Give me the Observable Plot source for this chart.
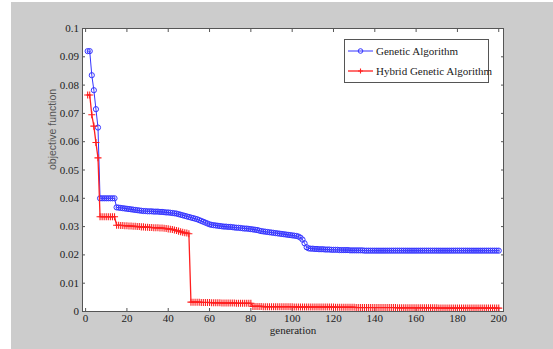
<!DOCTYPE html>
<html><head><meta charset="utf-8">
<script src="https://cdn.jsdelivr.net/npm/d3@7"></script>
<script src="https://cdn.jsdelivr.net/npm/@observablehq/plot@0.6"></script>
<style>
body{margin:0;background:#fff;}
#wrap{position:relative;width:553px;height:349px;overflow:hidden;}
#bg{position:absolute;left:11px;top:2px;width:542px;height:347px;background:#cccccc;}
#chart{position:absolute;left:0;top:0;}
#legend{position:absolute;left:344px;top:39px;width:143px;height:42px;background:#fff;border:1px solid #555;font-family:"Liberation Serif",serif;font-size:11px;color:#222;}
#legend .row{position:absolute;left:0;height:14px;width:143px;}
#legend svg{position:absolute;left:0;top:0;}
#legend span{position:absolute;left:31px;top:0;line-height:14px;white-space:nowrap;}
</style></head><body>
<div id="wrap"><div id="bg"></div><div id="chart"></div><div id="legend"></div></div>
<script>
const generations = d3.range(1, 201);
const gaValues = [
0.0920,0.0920,0.0835,0.0782,0.0715,0.0650,0.0400,0.0400,0.0400,0.0400,
0.0400,0.0400,0.0400,0.0400,0.0368,0.0367,0.0366,0.0365,0.0364,0.0363,
0.0362,0.0361,0.0360,0.0359,0.0358,0.0357,0.0356,0.0355,0.0355,0.0354,
0.0354,0.0354,0.0353,0.0353,0.0353,0.0352,0.0352,0.0351,0.0350,0.0350,
0.0349,0.0348,0.0347,0.0346,0.0344,0.0342,0.0340,0.0338,0.0336,0.0334,
0.0332,0.0330,0.0328,0.0326,0.0323,0.0320,0.0317,0.0314,0.0311,0.0308,
0.0306,0.0305,0.0304,0.0303,0.0302,0.0301,0.0300,0.0300,0.0299,0.0299,
0.0298,0.0297,0.0296,0.0296,0.0295,0.0294,0.0293,0.0293,0.0292,0.0291,
0.0290,0.0289,0.0288,0.0286,0.0284,0.0283,0.0282,0.0281,0.0280,0.0279,
0.0278,0.0277,0.0276,0.0275,0.0274,0.0273,0.0272,0.0271,0.0270,0.0269,
0.0268,0.0267,0.0265,0.0261,0.0254,0.0241,0.0227,0.0223,0.0222,0.0222,
0.0221,0.0221,0.0220,0.0220,0.0220,0.0219,0.0219,0.0219,0.0218,0.0218,
0.0218,0.0218,0.0217,0.0217,0.0217,0.0217,0.0217,0.0216,0.0216,0.0216,
0.0216,0.0216,0.0216,0.0216,0.0215,0.0215,0.0215,0.0215,0.0215,0.0215,
0.0215,0.0215,0.0215,0.0215,0.0215,0.0215,0.0215,0.0215,0.0215,0.0215,
0.0215,0.0215,0.0215,0.0215,0.0215,0.0215,0.0215,0.0215,0.0215,0.0215,
0.0215,0.0215,0.0215,0.0215,0.0215,0.0215,0.0215,0.0215,0.0215,0.0215,
0.0215,0.0215,0.0215,0.0215,0.0215,0.0215,0.0215,0.0215,0.0215,0.0215,
0.0215,0.0215,0.0215,0.0215,0.0215,0.0215,0.0215,0.0215,0.0215,0.0215,
0.0215,0.0215,0.0215,0.0215,0.0215,0.0215,0.0215,0.0215,0.0215,0.0215
];
const hgaValues = [
0.0765,0.0765,0.0695,0.0655,0.0597,0.0543,0.0335,0.0335,0.0335,0.0335,
0.0335,0.0335,0.0335,0.0335,0.0305,0.0305,0.0304,0.0304,0.0303,0.0303,
0.0302,0.0302,0.0301,0.0301,0.0300,0.0300,0.0299,0.0299,0.0298,0.0298,
0.0297,0.0297,0.0296,0.0296,0.0296,0.0295,0.0295,0.0294,0.0293,0.0292,
0.0291,0.0290,0.0288,0.0286,0.0284,0.0282,0.0280,0.0278,0.0277,0.0275,
0.0033,0.0033,0.0033,0.0033,0.0033,0.0032,0.0032,0.0032,0.0032,0.0032,
0.0031,0.0031,0.0031,0.0031,0.0031,0.0030,0.0030,0.0030,0.0030,0.0030,
0.0030,0.0030,0.0029,0.0029,0.0029,0.0029,0.0029,0.0029,0.0029,0.0029,
0.0018,0.0018,0.0018,0.0018,0.0018,0.0017,0.0017,0.0017,0.0017,0.0017,
0.0017,0.0017,0.0017,0.0017,0.0017,0.0017,0.0017,0.0017,0.0017,0.0017,
0.0016,0.0016,0.0016,0.0016,0.0016,0.0016,0.0016,0.0016,0.0016,0.0016,
0.0016,0.0016,0.0016,0.0016,0.0016,0.0016,0.0016,0.0016,0.0016,0.0016,
0.0015,0.0015,0.0015,0.0015,0.0015,0.0015,0.0015,0.0015,0.0015,0.0015,
0.0014,0.0014,0.0014,0.0014,0.0014,0.0014,0.0014,0.0014,0.0014,0.0014,
0.0014,0.0014,0.0014,0.0014,0.0014,0.0014,0.0014,0.0014,0.0014,0.0014,
0.0013,0.0013,0.0013,0.0013,0.0013,0.0013,0.0013,0.0013,0.0013,0.0013,
0.0013,0.0013,0.0013,0.0013,0.0013,0.0013,0.0013,0.0013,0.0013,0.0013,
0.0012,0.0012,0.0012,0.0012,0.0012,0.0012,0.0012,0.0012,0.0012,0.0012,
0.0012,0.0012,0.0012,0.0012,0.0012,0.0012,0.0012,0.0012,0.0012,0.0012,
0.0012,0.0012,0.0012,0.0012,0.0012,0.0012,0.0012,0.0012,0.0012,0.0012
];
const xTicks = [0, 20, 40, 60, 80, 100, 120, 140, 160, 180, 200];
const yTicks = [0, 0.01, 0.02, 0.03, 0.04, 0.05, 0.06, 0.07, 0.08, 0.09, 0.1];
const seriesNames = ["Genetic Algorithm", "Hybrid Genetic Algorithm"];
const seriesColors = ["#3535ff", "#ff1f1f"];
const xLabel = "generation";
const yLabel = "objective function";

const data = generations.map((g, i) => ({g, ga: gaValues[i], hga: hgaValues[i]}));
const fmt = d => String(+(+d).toFixed(2));
const axisColor = "#555";

const chart = Plot.plot({
  width: 553, height: 349,
  marginLeft: 82, marginRight: 50, marginTop: 28, marginBottom: 38,
  style: {background: "transparent", fontFamily: "'Liberation Serif', serif", fontSize: "11px", color: "#222"},
  x: {domain: [-1.5, 202.3]},
  y: {domain: [0, 0.1]},
  marks: [
    Plot.frame({fill: "white", stroke: null}),
    Plot.axisX({ticks: xTicks, tickSize: -3, tickPadding: 6, tickFormat: fmt, label: null, stroke: axisColor, fill: "#222"}),
    Plot.axisX({anchor: "top", ticks: xTicks, tickSize: -3, tickFormat: () => "", label: null, stroke: axisColor}),
    Plot.axisY({ticks: yTicks, tickSize: -3, tickPadding: 6.5, tickFormat: fmt, label: null, stroke: axisColor, fill: "#222"}),
    Plot.axisY({anchor: "right", ticks: yTicks, tickSize: -3, tickFormat: () => "", label: null, stroke: axisColor}),
    Plot.line(data, {x: "g", y: "ga", stroke: seriesColors[0], strokeWidth: 1}),
    Plot.dot(data, {x: "g", y: "ga", r: 2.6, stroke: seriesColors[0], strokeWidth: 1, symbol: "circle"}),
    Plot.line(data, {x: "g", y: "hga", stroke: seriesColors[1], strokeWidth: 1.3}),
    Plot.dot(data, {x: "g", y: "hga", r: 2.4, stroke: seriesColors[1], strokeWidth: 1.1, symbol: "plus"}),
    Plot.frame({stroke: axisColor}),
    Plot.text([xLabel], {frameAnchor: "bottom", dy: 22, text: d => d, fontSize: 11, fill: "#222", fontFamily: "'Liberation Serif', serif"}),
    Plot.text([yLabel], {frameAnchor: "left", dx: -30, rotate: -90, text: d => d, fontSize: 10.5, fill: "#555", fontFamily: "'Liberation Sans', sans-serif"})
  ]
});
document.getElementById("chart").appendChild(chart);

const legend = document.getElementById("legend");
const rowTops = [4, 24];
seriesNames.forEach((name, i) => {
  const row = document.createElement("div");
  row.className = "row";
  row.style.top = rowTops[i] + "px";
  const c = seriesColors[i];
  const marker = i === 0
    ? `<circle cx="15.5" cy="7" r="2.3" fill="none" stroke="${c}" stroke-width="1"/>`
    : `<path d="M15.5,4.5V9.5M13,7H18" stroke="${c}" stroke-width="1.1"/>`;
  row.innerHTML = `<svg width="30" height="14"><line x1="3" x2="28" y1="7" y2="7" stroke="${c}" stroke-width="${i === 0 ? 1 : 1.3}"/>${marker}</svg><span>${name}</span>`;
  legend.appendChild(row);
});
</script>
</body></html>
